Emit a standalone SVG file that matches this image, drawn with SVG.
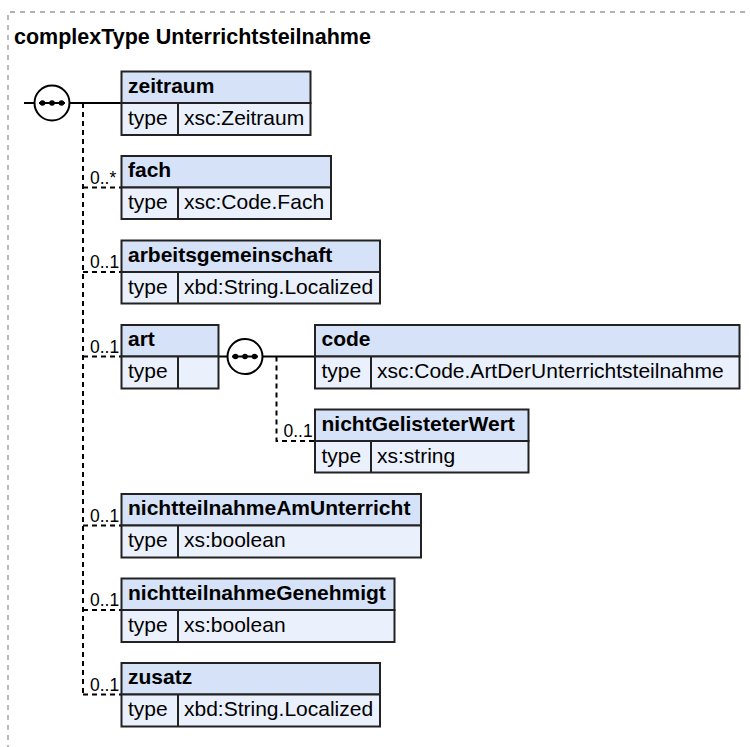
<svg xmlns="http://www.w3.org/2000/svg" width="750" height="747" viewBox="0 0 750 747">
<style>
.title{font-family:"Liberation Sans",Arial,sans-serif;font-weight:bold;font-size:21.5px;fill:#000}
.hd{fill:#d5e2f7;stroke:#222;stroke-width:2}
.rw{fill:#eaf1fc;stroke:#222;stroke-width:2}
.dv{stroke:#222;stroke-width:2}
.nm{font-family:"Liberation Sans",Arial,sans-serif;font-weight:bold;font-size:21px;fill:#000}
.tx{font-family:"Liberation Sans",Arial,sans-serif;font-size:21px;fill:#000}
.card{font-family:"Liberation Sans",Arial,sans-serif;font-size:17.5px;fill:#000}
.solid{stroke:#000;stroke-width:2;fill:none}
.dash{stroke:#000;stroke-width:2;fill:none;stroke-dasharray:5,4}
.seq{fill:#fff;stroke:#000;stroke-width:2}
.border{stroke:#999;stroke-width:1.3;fill:none;stroke-dasharray:5,5}
</style>
<defs>
<g id="seqsym">
<circle class="seq" cx="0" cy="0" r="17.5"/>
<line x1="-13" y1="0" x2="13" y2="0" stroke="#000" stroke-width="2"/>
<circle cx="-9.5" cy="0" r="2.8" fill="#000"/>
<circle cx="0" cy="0" r="2.8" fill="#000"/>
<circle cx="9.5" cy="0" r="2.8" fill="#000"/>
</g>
</defs>
<rect x="0" y="0" width="750" height="747" fill="#fff"/>
<path class="border" d="M8,760 V12 H750"/>
<text class="title" x="14" y="44">complexType Unterrichtsteilnahme</text>

<g id="connectors">
<line class="solid" x1="24" y1="103" x2="34.5" y2="103"/>
<line class="solid" x1="69.5" y1="103" x2="121.5" y2="103"/>
<path class="dash" d="M83,103 V694.5"/>
<path class="dash" d="M83,187.5 H121.5"/>
<path class="dash" d="M83,272 H121.5"/>
<path class="dash" d="M83,356.5 H121.5"/>
<path class="dash" d="M83,525.5 H121.5"/>
<path class="dash" d="M83,610 H121.5"/>
<path class="dash" d="M83,694.5 H121.5"/>
<line class="solid" x1="218.5" y1="356.5" x2="227.5" y2="356.5"/>
<line class="solid" x1="262.5" y1="356.5" x2="315" y2="356.5"/>
<path class="dash" d="M276.5,356.5 V441 H315"/>
<text class="card" x="90" y="183.5">0..*</text>
<text class="card" x="90" y="268">0..1</text>
<text class="card" x="90" y="352.5">0..1</text>
<text class="card" x="90" y="521.5">0..1</text>
<text class="card" x="90" y="606">0..1</text>
<text class="card" x="90" y="690.5">0..1</text>
<text class="card" x="283.5" y="437">0..1</text>
</g>

<g id="seq-main"><use href="#seqsym" x="52" y="103"/></g>
<g id="seq-art"><use href="#seqsym" x="245" y="356.5"/></g>

<g id="zeitraum">
<rect class="hd" x="121.5" y="71.5" width="189" height="31.5"/>
<rect class="rw" x="121.5" y="103" width="189" height="32"/>
<line class="dv" x1="178" y1="103" x2="178" y2="135"/>
<text class="nm" x="128" y="92.5">zeitraum</text>
<text class="tx" x="128" y="124.5">type</text>
<text class="tx" x="184" y="124.5">xsc:Zeitraum</text>
</g>

<g id="fach">
<rect class="hd" x="121.5" y="156" width="209.5" height="31.5"/>
<rect class="rw" x="121.5" y="187.5" width="209.5" height="31.5"/>
<line class="dv" x1="178" y1="187.5" x2="178" y2="219"/>
<text class="nm" x="128" y="177">fach</text>
<text class="tx" x="128" y="209">type</text>
<text class="tx" x="184" y="209">xsc:Code.Fach</text>
</g>

<g id="arbeitsgemeinschaft">
<rect class="hd" x="121.5" y="240.5" width="258.5" height="31.5"/>
<rect class="rw" x="121.5" y="272" width="258.5" height="31.5"/>
<line class="dv" x1="178" y1="272" x2="178" y2="303.5"/>
<text class="nm" x="128" y="261.5">arbeitsgemeinschaft</text>
<text class="tx" x="128" y="293.5">type</text>
<text class="tx" x="184" y="293.5">xbd:String.Localized</text>
</g>

<g id="art">
<rect class="hd" x="121.5" y="325" width="97" height="31.5"/>
<rect class="rw" x="121.5" y="356.5" width="97" height="32"/>
<line class="dv" x1="178" y1="356.5" x2="178" y2="388.5"/>
<text class="nm" x="128" y="346">art</text>
<text class="tx" x="128" y="378">type</text>
</g>

<g id="code">
<rect class="hd" x="315" y="325" width="424.5" height="31.5"/>
<rect class="rw" x="315" y="356.5" width="424.5" height="32"/>
<line class="dv" x1="371" y1="356.5" x2="371" y2="388.5"/>
<text class="nm" x="321.5" y="346">code</text>
<text class="tx" x="321.5" y="378">type</text>
<text class="tx" x="377" y="378">xsc:Code.ArtDerUnterrichtsteilnahme</text>
</g>

<g id="nichtGelisteterWert">
<rect class="hd" x="315" y="409.5" width="213.5" height="31.5"/>
<rect class="rw" x="315" y="441" width="213.5" height="31.5"/>
<line class="dv" x1="371" y1="441" x2="371" y2="472.5"/>
<text class="nm" x="321.5" y="430.5">nichtGelisteterWert</text>
<text class="tx" x="321.5" y="462.5">type</text>
<text class="tx" x="377" y="462.5">xs:string</text>
</g>

<g id="nichtteilnahmeAmUnterricht">
<rect class="hd" x="121.5" y="494" width="299.5" height="31.5"/>
<rect class="rw" x="121.5" y="525.5" width="299.5" height="32"/>
<line class="dv" x1="178" y1="525.5" x2="178" y2="557.5"/>
<text class="nm" x="128" y="515">nichtteilnahmeAmUnterricht</text>
<text class="tx" x="128" y="547">type</text>
<text class="tx" x="184" y="547">xs:boolean</text>
</g>

<g id="nichtteilnahmeGenehmigt">
<rect class="hd" x="121.5" y="578.5" width="273" height="31.5"/>
<rect class="rw" x="121.5" y="610" width="273" height="32"/>
<line class="dv" x1="178" y1="610" x2="178" y2="642"/>
<text class="nm" x="128" y="599.5">nichtteilnahmeGenehmigt</text>
<text class="tx" x="128" y="631.5">type</text>
<text class="tx" x="184" y="631.5">xs:boolean</text>
</g>

<g id="zusatz">
<rect class="hd" x="121.5" y="663" width="258.5" height="31.5"/>
<rect class="rw" x="121.5" y="694.5" width="258.5" height="32"/>
<line class="dv" x1="178" y1="694.5" x2="178" y2="726.5"/>
<text class="nm" x="128" y="684">zusatz</text>
<text class="tx" x="128" y="716">type</text>
<text class="tx" x="184" y="716">xbd:String.Localized</text>
</g>
</svg>
